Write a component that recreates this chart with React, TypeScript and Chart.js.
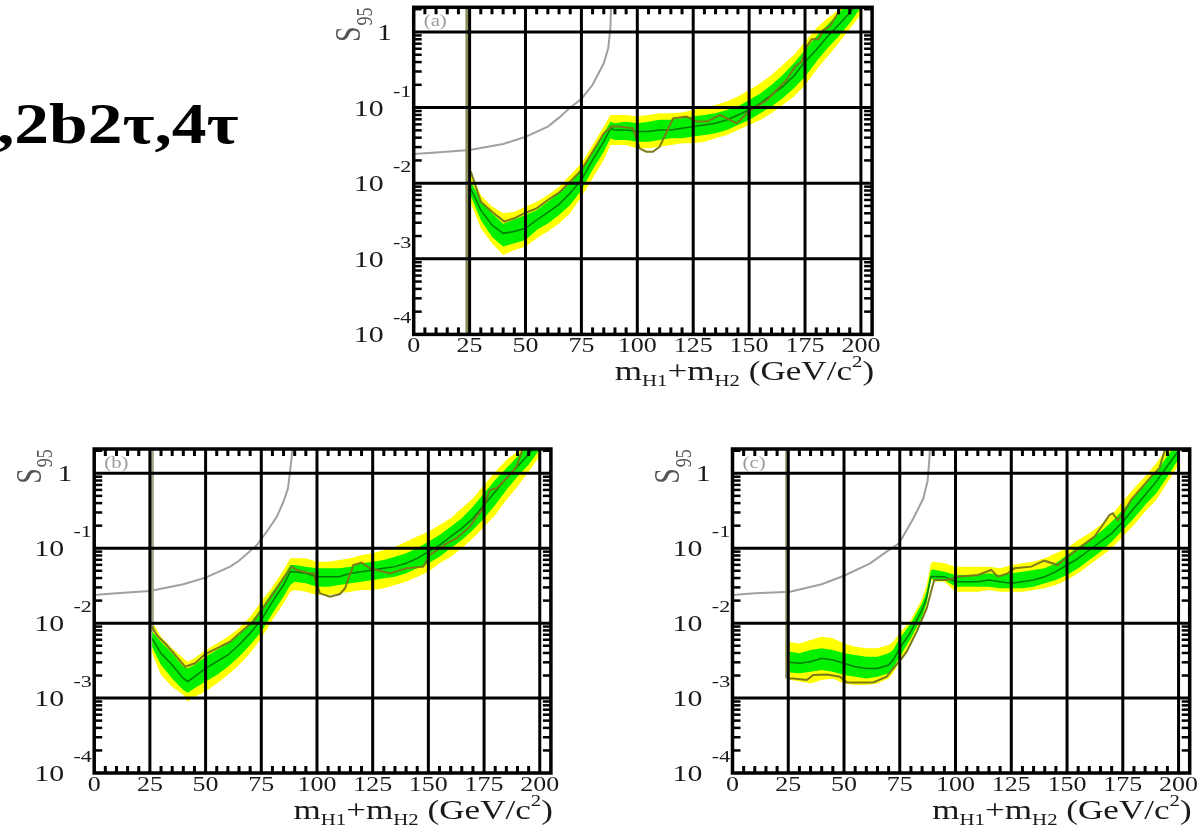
import { useEffect, useRef } from 'react';
import { Chart, registerables } from 'chart.js';

Chart.register(...registerables);

// ---------- shared axis data ----------
const X_MAJOR = [0, 25, 50, 75, 100, 125, 150, 175, 200];
const X_MINOR_STEP = 5;
const Y_DECADES = [1e-4, 1e-3, 1e-2, 1e-1, 1];
const Y_EXPONENTS = ['-4', '-3', '-2', '-1', ''];
const X_MIN = 0;
const X_MAX = 205;
const Y_MIN = 1e-4;
const TITLE_TEXT = ',2b2τ,4τ';

// ---------- panel (a) ----------
const A_BAND_X = [25.5, 30, 35, 40, 45, 50, 55, 60, 65, 70, 75, 80, 85, 88, 90, 95, 100, 105, 110, 115, 120, 125, 130, 135, 140, 145, 150, 155, 160, 165, 170, 175, 180, 185, 190, 195, 200];
const A_YELLOW_HI = [0.014, 0.007, 0.0049, 0.004, 0.0042, 0.0049, 0.0057, 0.007, 0.009, 0.0128, 0.0183, 0.032, 0.056, 0.08, 0.08, 0.08, 0.076, 0.08, 0.084, 0.084, 0.086, 0.093, 0.098, 0.108, 0.12, 0.14, 0.171, 0.209, 0.27, 0.366, 0.496, 0.745, 1.12, 1.52, 1.95, 3.0, 4.5];
const A_GREEN_HI = [0.0105, 0.006, 0.004, 0.0029, 0.0033, 0.0038, 0.0044, 0.0057, 0.0074, 0.01, 0.015, 0.0261, 0.0457, 0.065, 0.062, 0.065, 0.062, 0.065, 0.069, 0.069, 0.072, 0.076, 0.08, 0.084, 0.093, 0.103, 0.126, 0.154, 0.199, 0.27, 0.385, 0.578, 0.868, 1.24, 1.77, 2.5, 3.8];
const A_MEDIAN = [0.0085, 0.0044, 0.0028, 0.00217, 0.00229, 0.00253, 0.00326, 0.0041, 0.00525, 0.0074, 0.011, 0.0203, 0.0354, 0.053, 0.0506, 0.0506, 0.0481, 0.0481, 0.0506, 0.0506, 0.0532, 0.056, 0.0589, 0.0619, 0.0686, 0.0798, 0.093, 0.114, 0.147, 0.189, 0.262, 0.405, 0.578, 0.868, 1.24, 1.8, 2.8];
const A_GREEN_LO = [0.0068, 0.00326, 0.00196, 0.00145, 0.0016, 0.00177, 0.0024, 0.00294, 0.00379, 0.00515, 0.00813, 0.015, 0.0261, 0.0392, 0.0373, 0.0373, 0.0354, 0.0354, 0.0373, 0.0392, 0.0392, 0.0413, 0.0434, 0.0457, 0.0506, 0.0589, 0.0686, 0.084, 0.103, 0.133, 0.18, 0.256, 0.405, 0.608, 0.868, 1.3, 2.1];
const A_YELLOW_LO = [0.0055, 0.00253, 0.0016, 0.00112, 0.00131, 0.00145, 0.00187, 0.00229, 0.00294, 0.004, 0.00664, 0.0116, 0.0203, 0.032, 0.032, 0.032, 0.0289, 0.029, 0.0304, 0.032, 0.0337, 0.0337, 0.0354, 0.0392, 0.0434, 0.0506, 0.0589, 0.0686, 0.084, 0.108, 0.14, 0.199, 0.314, 0.472, 0.708, 1.1, 1.7];
const A_OBS_X = [25.5, 30, 35, 40.5, 45, 50, 55, 60, 65, 70, 75, 80, 85, 88.5, 92, 98, 101, 104, 107, 110, 116, 122, 126.5, 131, 137, 144.5, 149.7, 158, 162.3, 166.8, 170.5, 173.5, 175.7, 178, 181, 183.2, 186.2, 189.2, 194];
const A_OBS_Y = [0.0144, 0.0057, 0.0042, 0.0031, 0.00343, 0.00407, 0.00465, 0.006, 0.0075, 0.0105, 0.015, 0.0261, 0.0457, 0.056, 0.056, 0.0532, 0.0289, 0.0261, 0.0261, 0.0304, 0.0721, 0.0759, 0.0652, 0.0652, 0.0798, 0.0619, 0.0883, 0.126, 0.171, 0.232, 0.348, 0.405, 0.64, 0.8, 0.8, 1.06, 1.2, 1.68, 3.0];
const A_EDGE_X = [23.8, 23.8];
const A_EDGE_Y = [3.0, 1e-4];
const A_THEORY_X = [0, 10, 25, 40, 50, 60, 65, 70, 75, 80, 85, 87, 88, 88.3];
const A_THEORY_Y = [0.0243, 0.0255, 0.0275, 0.033, 0.041, 0.056, 0.0736, 0.1, 0.13, 0.2, 0.385, 0.61, 1.18, 2.5];

// ---------- panel (b) ----------
const B_BAND_X = [26, 30, 35, 40, 42, 45, 50, 55, 60, 65, 70, 75, 80, 85, 88, 90, 95, 100, 105, 110, 115, 120, 125, 130, 135, 140, 145, 150, 155, 160, 165, 170, 175, 180, 185, 190, 195, 200];
const B_YELLOW_HI = [0.0105, 0.00659, 0.00461, 0.00339, 0.00306, 0.00339, 0.00438, 0.00537, 0.00659, 0.00853, 0.0122, 0.0194, 0.0307, 0.0512, 0.0733, 0.0733, 0.0733, 0.0662, 0.0662, 0.0696, 0.0733, 0.0813, 0.0855, 0.0947, 0.105, 0.122, 0.143, 0.166, 0.204, 0.251, 0.341, 0.464, 0.699, 1.05, 1.51, 1.95, 3.0, 4.5];
const B_GREEN_HI = [0.0077, 0.00566, 0.00395, 0.00262, 0.0025, 0.00276, 0.00357, 0.00438, 0.00537, 0.00695, 0.00994, 0.0158, 0.0263, 0.0417, 0.0597, 0.0597, 0.0568, 0.0539, 0.0539, 0.0539, 0.0568, 0.0629, 0.0662, 0.0696, 0.0771, 0.0855, 0.0997, 0.122, 0.15, 0.194, 0.251, 0.359, 0.541, 0.815, 1.17, 1.67, 2.5, 3.8];
const B_MEDIAN = [0.0062, 0.00395, 0.00276, 0.00183, 0.00166, 0.00193, 0.00249, 0.00306, 0.00376, 0.00511, 0.00731, 0.011, 0.0194, 0.0323, 0.0486, 0.0486, 0.0462, 0.0417, 0.0417, 0.0417, 0.0462, 0.0486, 0.0512, 0.0539, 0.0568, 0.0629, 0.0733, 0.0899, 0.11, 0.143, 0.184, 0.251, 0.378, 0.569, 0.857, 1.23, 1.8, 2.8];
const B_GREEN_LO = [0.0048, 0.00276, 0.00183, 0.00128, 0.00118, 0.00135, 0.00166, 0.00203, 0.00262, 0.00357, 0.00511, 0.00769, 0.0135, 0.0226, 0.0323, 0.0358, 0.034, 0.0307, 0.0307, 0.0323, 0.034, 0.0358, 0.0377, 0.0396, 0.0417, 0.0462, 0.0539, 0.0629, 0.0771, 0.0997, 0.129, 0.175, 0.251, 0.378, 0.599, 0.903, 1.3, 2.1];
const B_YELLOW_LO = [0.004, 0.00203, 0.00142, 0.0011, 0.00089, 0.00104, 0.00122, 0.00157, 0.00203, 0.00276, 0.00395, 0.00627, 0.011, 0.0184, 0.0263, 0.0277, 0.0263, 0.0238, 0.0238, 0.025, 0.0263, 0.0277, 0.0277, 0.0292, 0.0323, 0.0358, 0.0417, 0.0486, 0.0629, 0.0771, 0.0997, 0.136, 0.194, 0.278, 0.441, 0.664, 1.05, 1.7];
const B_OBS_X = [26, 28, 32.5, 37, 40.8, 45.2, 49.7, 55, 61, 66.9, 71.4, 75.2, 80.4, 84.9, 88.6, 90.9, 96.9, 98.4, 101.3, 105.8, 110.3, 112.6, 116.3, 120, 123.8, 132.8, 140.2, 147.7, 150.7, 158.2, 162.7, 168.7, 171.6, 174.6, 177.6, 180.6, 185.1, 189.6, 194];
const B_OBS_Y = [0.009, 0.00695, 0.00511, 0.00357, 0.00262, 0.00291, 0.00383, 0.00461, 0.00566, 0.0081, 0.0105, 0.015, 0.025, 0.0396, 0.0568, 0.0512, 0.0462, 0.0462, 0.025, 0.0226, 0.0245, 0.0292, 0.0597, 0.0644, 0.0539, 0.0462, 0.0539, 0.0568, 0.0813, 0.116, 0.136, 0.194, 0.264, 0.341, 0.599, 0.63, 0.857, 1.23, 3.0];
const B_EDGE_X = [26.1, 26.1];
const B_EDGE_Y = [3.0, 0.0077];
const B_THEORY_X = [0, 10, 25, 40, 50, 61, 65, 70, 73, 78, 82, 85, 87, 88.6, 89];
const B_THEORY_Y = [0.0238, 0.025, 0.0269, 0.033, 0.0405, 0.0568, 0.068, 0.092, 0.11, 0.175, 0.264, 0.42, 0.63, 1.59, 2.5];

// ---------- panel (c) ----------
const C_BAND_X = [25.5, 30, 35, 40, 45, 50, 55, 60, 65, 70, 72, 75, 80, 85, 87, 89, 90, 95, 100, 105, 110, 115, 120, 125, 130, 135, 140, 145, 150, 155, 160, 165, 170, 175, 180, 185, 190, 195, 200];
const C_YELLOW_HI = [0.0056, 0.00537, 0.00595, 0.00659, 0.00627, 0.00537, 0.00485, 0.00461, 0.00461, 0.00511, 0.00566, 0.00731, 0.011, 0.0214, 0.0323, 0.0629, 0.0662, 0.0629, 0.0568, 0.0568, 0.0568, 0.0568, 0.0539, 0.0597, 0.0629, 0.0662, 0.0733, 0.0855, 0.0997, 0.129, 0.158, 0.204, 0.278, 0.419, 0.631, 0.903, 1.36, 2.2, 3.3];
const C_GREEN_HI = [0.0042, 0.00395, 0.00438, 0.00461, 0.00438, 0.00395, 0.00376, 0.00357, 0.00357, 0.00395, 0.00438, 0.00627, 0.00994, 0.0184, 0.0263, 0.0512, 0.052, 0.0486, 0.0439, 0.0439, 0.0439, 0.0462, 0.0439, 0.0462, 0.0486, 0.0512, 0.0539, 0.0629, 0.0813, 0.105, 0.129, 0.166, 0.226, 0.324, 0.488, 0.699, 1.05, 1.7, 2.7];
const C_MEDIAN = [0.003, 0.00291, 0.00306, 0.00339, 0.00322, 0.00291, 0.00262, 0.00249, 0.00249, 0.00276, 0.00322, 0.00461, 0.00769, 0.015, 0.0214, 0.0417, 0.042, 0.0417, 0.0358, 0.0358, 0.0358, 0.0377, 0.0358, 0.034, 0.0358, 0.0377, 0.0417, 0.0486, 0.0597, 0.0733, 0.0947, 0.122, 0.158, 0.226, 0.341, 0.514, 0.774, 1.25, 2.0];
const C_GREEN_LO = [0.0022, 0.00214, 0.00225, 0.00237, 0.00225, 0.00203, 0.00193, 0.00183, 0.00193, 0.00214, 0.00249, 0.00357, 0.00627, 0.0122, 0.0184, 0.0396, 0.038, 0.0377, 0.0307, 0.0307, 0.0307, 0.0307, 0.0292, 0.0292, 0.0292, 0.0307, 0.034, 0.0377, 0.0439, 0.0539, 0.0696, 0.0899, 0.122, 0.175, 0.251, 0.378, 0.541, 0.9, 1.55];
const C_YELLOW_LO = [0.00175, 0.00166, 0.00157, 0.00174, 0.00183, 0.00157, 0.00149, 0.00149, 0.00157, 0.00183, 0.00214, 0.00306, 0.00566, 0.0116, 0.0166, 0.0377, 0.036, 0.0358, 0.0263, 0.0263, 0.0263, 0.0277, 0.0263, 0.0263, 0.0263, 0.0277, 0.0292, 0.0323, 0.0377, 0.0462, 0.0597, 0.0771, 0.0997, 0.143, 0.204, 0.308, 0.441, 0.75, 1.3];
const C_OBS_X = [25.5, 27.3, 33.3, 36.2, 42.2, 48.2, 51.2, 63.1, 69.1, 72.1, 75.9, 78.1, 82.6, 87.1, 89.5, 90.5, 96.5, 101, 110, 116, 119, 123.4, 126.4, 133.9, 139.8, 145.8, 150.3, 156.3, 162.3, 166, 169, 170.5, 172.7, 175.7, 178.7, 183.2, 187.7, 191.4, 195.5];
const C_OBS_Y = [0.00183, 0.00183, 0.00174, 0.00203, 0.00207, 0.00193, 0.00162, 0.00162, 0.00193, 0.00249, 0.00339, 0.00416, 0.00769, 0.0158, 0.03, 0.0377, 0.0377, 0.0417, 0.0439, 0.0512, 0.0417, 0.0462, 0.0539, 0.0568, 0.0682, 0.0597, 0.0771, 0.105, 0.143, 0.204, 0.278, 0.292, 0.238, 0.308, 0.441, 0.631, 0.903, 1.17, 3.0];
const C_EDGE_X = [24.3, 24.3];
const C_EDGE_Y = [3.0, 0.00183];
const C_THEORY_X = [0, 10, 25.8, 40, 49.7, 61.7, 69.1, 74.7, 81.1, 85.6, 87.5, 88.3, 88.6];
const C_THEORY_Y = [0.0238, 0.025, 0.0263, 0.033, 0.0426, 0.0629, 0.09, 0.116, 0.251, 0.464, 0.8, 1.59, 2.5];

type PanelSpec = {
  label: string;
  bandX: number[]; yHi: number[]; gHi: number[]; med: number[]; gLo: number[]; yLo: number[];
  obsX: number[]; obsY: number[]; edgeX: number[]; edgeY: number[]; edgeColor: string;
  thX: number[]; thY: number[];
  left: number; top: number; width: number; height: number;
  plotLeft: number; plotTop: number; plotRight: number; plotBottom: number; yMax: number;
};

const PANELS: PanelSpec[] = [
  {
    label: '(a)', bandX: A_BAND_X, yHi: A_YELLOW_HI, gHi: A_GREEN_HI, med: A_MEDIAN, gLo: A_GREEN_LO, yLo: A_YELLOW_LO,
    obsX: A_OBS_X, obsY: A_OBS_Y, edgeX: A_EDGE_X, edgeY: A_EDGE_Y, edgeColor: '#8c8c58', thX: A_THEORY_X, thY: A_THEORY_Y,
    left: 310, top: 0, width: 580, height: 400, plotLeft: 103.7, plotTop: 7.3, plotRight: 562.1, plotBottom: 334.4, yMax: 2.12,
  },
  {
    label: '(b)', bandX: B_BAND_X, yHi: B_YELLOW_HI, gHi: B_GREEN_HI, med: B_MEDIAN, gLo: B_GREEN_LO, yLo: B_YELLOW_LO,
    obsX: B_OBS_X, obsY: B_OBS_Y, edgeX: B_EDGE_X, edgeY: B_EDGE_Y, edgeColor: '#a4a488', thX: B_THEORY_X, thY: B_THEORY_Y,
    left: 0, top: 430, width: 580, height: 400, plotLeft: 94.2, plotTop: 19, plotRight: 550.9, plotBottom: 343, yMax: 2.11,
  },
  {
    label: '(c)', bandX: C_BAND_X, yHi: C_YELLOW_HI, gHi: C_GREEN_HI, med: C_MEDIAN, gLo: C_GREEN_LO, yLo: C_YELLOW_LO,
    obsX: C_OBS_X, obsY: C_OBS_Y, edgeX: C_EDGE_X, edgeY: C_EDGE_Y, edgeColor: '#9a9a68', thX: C_THEORY_X, thY: C_THEORY_Y,
    left: 630, top: 430, width: 571, height: 400, plotLeft: 102.5, plotTop: 19, plotRight: 559.7, plotBottom: 343, yMax: 2.11,
  },
];

const SERIF = '"Liberation Serif", "Times New Roman", serif';
const SX = 1.3;

function sText(ctx: CanvasRenderingContext2D, s: string, x: number, y: number, size: number, align: 'left' | 'center' | 'right', color = '#1a1a1a') {
  ctx.save();
  ctx.font = `${size}px ${SERIF}`;
  const w = ctx.measureText(s).width * SX;
  const x0 = align === 'left' ? x : align === 'center' ? x - w / 2 : x - w;
  ctx.translate(x0, y);
  ctx.scale(SX, 1);
  ctx.textAlign = 'left';
  ctx.textBaseline = 'alphabetic';
  ctx.fillStyle = color;
  ctx.fillText(s, 0, 0);
  ctx.restore();
  return w;
}

function segWidth(ctx: CanvasRenderingContext2D, s: string, size: number) {
  ctx.font = `${size}px ${SERIF}`;
  return ctx.measureText(s).width * SX;
}

function makeOverlay(spec: PanelSpec) {
  return {
    id: 'rootFrame' + spec.label,
    afterDatasetsDraw(chart: any) {
      const { ctx, chartArea: a, scales } = chart;
      const xs = scales.x;
      const ys = scales.y;
      ctx.save();
      ctx.strokeStyle = '#000';
      ctx.lineCap = 'butt';
      const seg = (x1: number, y1: number, x2: number, y2: number) => {
        ctx.beginPath(); ctx.moveTo(x1, y1); ctx.lineTo(x2, y2); ctx.stroke();
      };
      // major grid
      ctx.lineWidth = 3;
      X_MAJOR.forEach((v) => { if (v > X_MIN) { const px = xs.getPixelForValue(v); seg(px, a.top, px, a.bottom); } });
      Y_DECADES.forEach((v) => { if (v > Y_MIN) { const py = ys.getPixelForValue(v); seg(a.left, py, a.right, py); } });
      // frame
      ctx.lineWidth = 3.5;
      ctx.strokeRect(a.left, a.top, a.right - a.left, a.bottom - a.top);
      // minor x ticks
      ctx.lineWidth = 3;
      for (let v = X_MINOR_STEP; v < X_MAX; v += X_MINOR_STEP) {
        if (v % 25 === 0) continue;
        const px = xs.getPixelForValue(v);
        seg(px, a.bottom, px, a.bottom - 7);
        seg(px, a.top, px, a.top + 7);
      }
      // minor y ticks
      ctx.lineWidth = 2.5;
      for (let k = -4; k <= 0; k++) {
        for (let m = 2; m <= 9; m++) {
          const v = m * Math.pow(10, k);
          if (v >= spec.yMax) continue;
          const py = ys.getPixelForValue(v);
          seg(a.left, py, a.left + 8, py);
          seg(a.right - 8, py, a.right, py);
        }
      }
      // y tick labels
      Y_DECADES.forEach((v, i) => {
        const py = ys.getPixelForValue(v);
        if (Y_EXPONENTS[i] === '') {
          sText(ctx, '1', a.left - 21.7, py + 8, 23, 'right');
        } else {
          sText(ctx, '10', a.left - 30, py + 8, 23, 'right');
          sText(ctx, Y_EXPONENTS[i], a.left - 20.7, py - 11, 17, 'left');
        }
      });
      // x tick labels
      X_MAJOR.forEach((v) => {
        const px = xs.getPixelForValue(v);
        sText(ctx, String(v), px, a.bottom + 18, 20, 'center');
      });
      // x title: m_H1 + m_H2 (GeV/c^2)
      const parts: { t: string; s: number; dy: number }[] = [
        { t: 'm', s: 27, dy: 0 }, { t: 'H1', s: 16, dy: 6 }, { t: '+', s: 27, dy: 0 },
        { t: 'm', s: 27, dy: 0 }, { t: 'H2', s: 16, dy: 6 }, { t: ' (GeV/c', s: 27, dy: 0 },
        { t: '2', s: 16, dy: -13 }, { t: ')', s: 27, dy: 0 },
      ];
      let total = 0;
      parts.forEach((p) => { total += segWidth(ctx, p.t, p.s); });
      let cx = a.right + 2 - total;
      const base = a.bottom + 46;
      parts.forEach((p) => { cx += sText(ctx, p.t, cx, base + p.dy, p.s, 'left'); });
      // y title: S_95 rotated
      ctx.save();
      ctx.translate(a.left - 53.7, a.top + 34.7);
      ctx.rotate(-Math.PI / 2);
      ctx.scale(1, SX);
      ctx.fillStyle = '#555';
      ctx.textBaseline = 'alphabetic';
      ctx.font = `28px ${SERIF}`;
      ctx.fillText('S', 0, 0);
      const sw = ctx.measureText('S').width;
      ctx.font = `18px ${SERIF}`;
      ctx.fillText('95', sw + 1, 9);
      ctx.restore();
      // panel label
      sText(ctx, spec.label, a.left + 10, a.top + 19, 16, 'left', '#9a9a9a');
      ctx.restore();
    },
  };
}

const pts = (xs: number[], ys: number[]) => xs.map((x, i) => ({ x, y: ys[i] }));

function Panel({ spec }: { spec: PanelSpec }) {
  const ref = useRef<HTMLCanvasElement>(null);
  useEffect(() => {
    const canvas = ref.current!;
    const none = 'rgba(0,0,0,0)';
    const chart = new Chart(canvas, {
      type: 'line',
      data: {
        datasets: [
          { data: pts(spec.obsX, spec.obsY), borderColor: '#7a7a1a', borderWidth: 2, pointRadius: 0, fill: false },
          { data: pts(spec.edgeX, spec.edgeY), borderColor: spec.edgeColor, borderWidth: 3, pointRadius: 0, fill: false },
          { data: pts(spec.bandX, spec.med), borderColor: '#007a00', borderWidth: 1.5, pointRadius: 0, fill: false },
          { data: pts(spec.bandX, spec.gHi), borderColor: none, borderWidth: 0, backgroundColor: '#00f000', pointRadius: 0, fill: 4 },
          { data: pts(spec.bandX, spec.gLo), borderColor: none, borderWidth: 0, pointRadius: 0, fill: false },
          { data: pts(spec.bandX, spec.yHi), borderColor: none, borderWidth: 0, backgroundColor: '#ffff00', pointRadius: 0, fill: 6 },
          { data: pts(spec.bandX, spec.yLo), borderColor: none, borderWidth: 0, pointRadius: 0, fill: false },
          { data: pts(spec.thX, spec.thY), borderColor: '#a0a0a0', borderWidth: 2, pointRadius: 0, fill: false },
        ],
      } as any,
      options: {
        responsive: false,
        maintainAspectRatio: false,
        animation: false,
        devicePixelRatio: 1,
        layout: { padding: { left: 0, top: spec.plotTop, right: spec.width - spec.plotRight, bottom: 0 } },
        plugins: { legend: { display: false }, tooltip: { enabled: false } },
        scales: {
          x: {
            type: 'linear', min: X_MIN, max: X_MAX,
            grid: { display: false }, border: { display: false }, ticks: { display: false },
            afterBuildTicks: (s: any) => { s.ticks = X_MAJOR.map((v) => ({ value: v })); },
            afterFit: (s: any) => { s.height = spec.height - spec.plotBottom; },
          },
          y: {
            type: 'logarithmic', min: Y_MIN, max: spec.yMax,
            grid: { display: false }, border: { display: false }, ticks: { display: false },
            afterBuildTicks: (s: any) => { s.ticks = Y_DECADES.map((v) => ({ value: v })); },
            afterFit: (s: any) => { s.width = spec.plotLeft; },
          },
        },
      } as any,
      plugins: [makeOverlay(spec)],
    });
    return () => chart.destroy();
  }, [spec]);
  return (
    <canvas
      ref={ref}
      width={spec.width}
      height={spec.height}
      style={{ position: 'absolute', left: spec.left, top: spec.top, width: spec.width, height: spec.height }}
    />
  );
}

export default function App() {
  return (
    <div>
      <div
        style={{
          position: 'absolute', left: -3, top: 96, fontFamily: SERIF, fontWeight: 'bold', fontSize: 56,
          lineHeight: '56px', transform: 'scaleX(1.24)', transformOrigin: 'left top', whiteSpace: 'nowrap', color: '#000',
        }}
      >
        {TITLE_TEXT}
      </div>
      {PANELS.map((p) => <Panel key={p.label} spec={p} />)}
    </div>
  );
}
